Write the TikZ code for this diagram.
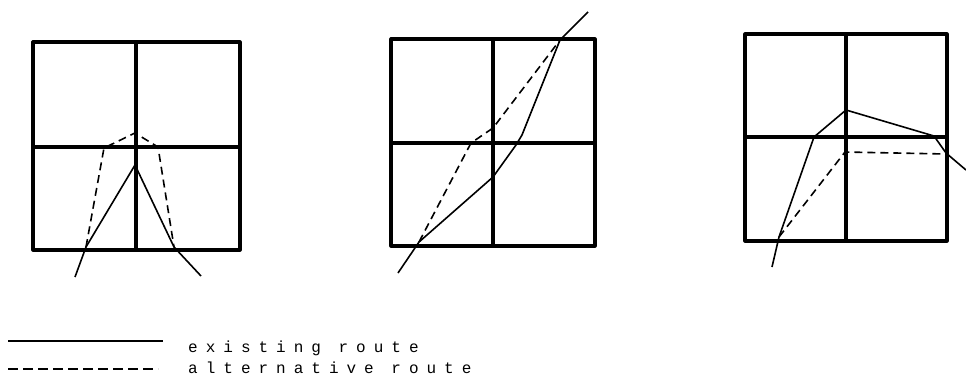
\documentclass[tikz,border=0pt]{standalone}
\usepackage{fontspec}
\newfontfamily\legendfont[LetterSpace=50]{Liberation Mono}
\begin{document}
\begin{tikzpicture}[x=1pt,y=-1pt,line join=round]
\tikzstyle{box}=[draw,line width=3.2pt]
\tikzstyle{route}=[draw,line width=1.6pt]
\tikzstyle{alt}=[route,dash pattern=on 8pt off 5pt]
\tikzstyle{legend}=[anchor=base west,inner sep=0pt,font=\legendfont\fontsize{16}{16}\selectfont]
\useasboundingbox (0,0) rectangle (966,378);

% the three 2x2 grids
\foreach \l/\t/\r/\b/\mx/\my in {33/42/240/250/136/147,391/39/595/246/493/143,745/34/947/241/846/137}{
  \draw[box] (\l,\t) rectangle (\r,\b);
  \draw[box] (\mx,\t) -- (\mx,\b);
  \draw[box] (\l,\my) -- (\r,\my);
}

% left grid
\draw[route] (75,277) -- (86,247) -- (135,165) -- (174,247) -- (201,276);
\draw[alt] (86,247) -- (104,148) -- (135,133) -- (158,147) -- (174,247);

% middle grid
\draw[route] (398,273) -- (419,242) -- (493,177) -- (516,145) -- (522,135) -- (560,40) -- (588,12);
\draw[alt] (419,242) -- (471,143) -- (493,128) -- (560,40);

% right grid
\draw[route] (772,267) -- (779,237) -- (814,137) -- (846,110) -- (934,136) -- (946,153) -- (966,170);
\draw[alt] (779,237) -- (845,152) -- (946,154);

% legend
\node[legend](ex) at (188,352) {existing route};
\node[legend](alt) at (188,373) {alternative route};
\coordinate (ex0) at (8,341);
\coordinate (alt0) at (8,369);
\draw[route,line width=1.3pt] (ex0) -- ++(155,0);
\draw[alt,line width=1.8pt,dash pattern=on 10pt off 5pt] (alt0) -- ++(150,0);
\end{tikzpicture}
\end{document}
